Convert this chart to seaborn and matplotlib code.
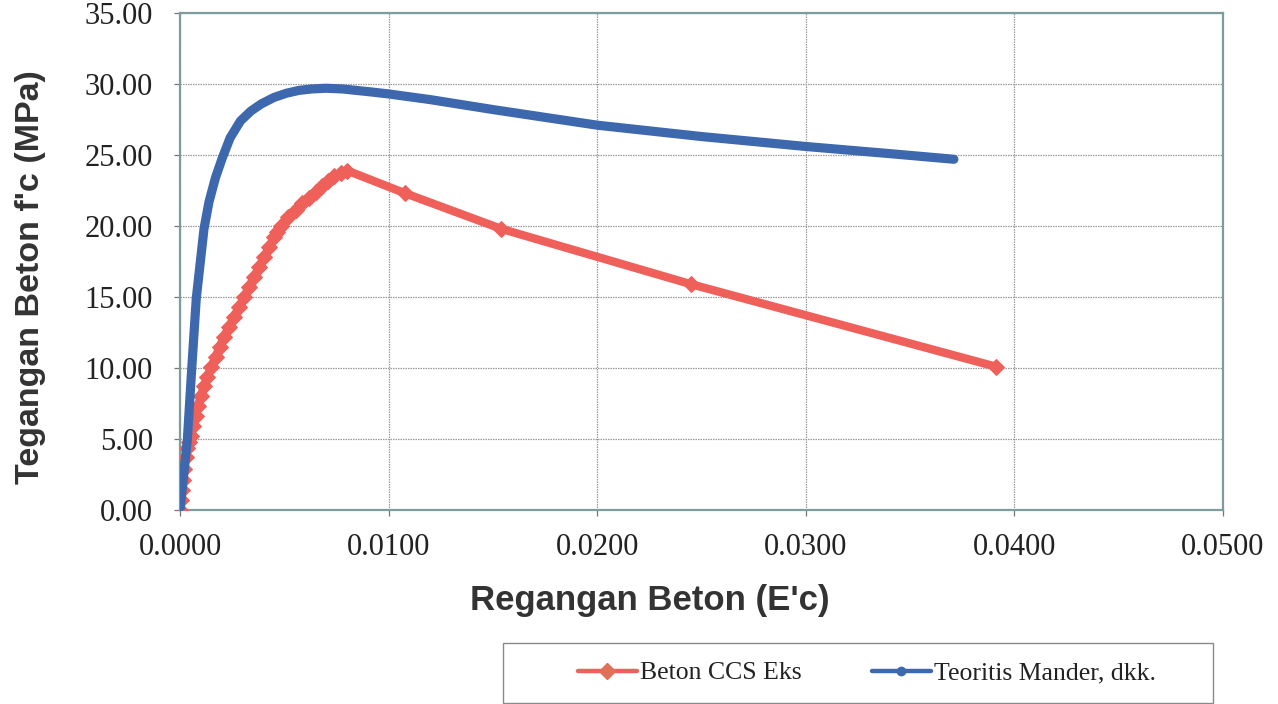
import matplotlib
matplotlib.use("Agg")
import matplotlib.pyplot as plt
from matplotlib.lines import Line2D
from matplotlib.patches import Rectangle
from matplotlib.ticker import FixedLocator, FormatStrFormatter
import numpy as np
import pandas as pd
import seaborn as sns

# Beton CCS Eks (experimental stress-strain)
eks_strain = [0.0, 0.00005, 0.00010, 0.00014, 0.00020, 0.00027, 0.00035, 0.00043, 0.00051,
              0.00063, 0.00075, 0.00087, 0.00099, 0.00115, 0.00131, 0.00151, 0.00171,
              0.00191, 0.00211, 0.00235, 0.00259, 0.00283, 0.00307, 0.00331, 0.00355,
              0.00379, 0.00403, 0.00427, 0.00451, 0.00467, 0.00483, 0.00519, 0.00555,
              0.00587, 0.00619, 0.00651, 0.00683, 0.00711, 0.00739, 0.00770, 0.00802,
              0.01080, 0.01540, 0.02450, 0.03910]
eks_stress = [0.0, 0.7, 1.4, 2.1, 2.9, 3.75, 4.4, 4.8, 5.2,
              5.9, 6.6, 7.3, 8.0, 8.7, 9.4, 10.1, 10.8,
              11.5, 12.2, 12.9, 13.6, 14.3, 15.0, 15.7, 16.4,
              17.1, 17.8, 18.5, 19.2, 19.6, 20.0, 20.6, 21.1,
              21.6, 22.0, 22.4, 22.8, 23.2, 23.5, 23.7, 23.9,
              22.3, 19.8, 15.9, 10.1]

# Teoritis Mander, dkk. (theoretical confined model)
man_strain = [0.0, 0.00035, 0.00056, 0.00078, 0.00115, 0.00139, 0.00170, 0.00203, 0.00240,
              0.00290, 0.00340, 0.00390, 0.00450, 0.00510, 0.00570, 0.00630, 0.00700,
              0.00780, 0.00910, 0.01000, 0.01200, 0.01500, 0.02000, 0.02500, 0.03000,
              0.03400, 0.03710]
man_stress = [0.0, 4.9, 9.9, 14.9, 19.8, 21.7, 23.4, 24.8, 26.2,
              27.4, 28.1, 28.6, 29.05, 29.35, 29.55, 29.65, 29.7,
              29.65, 29.45, 29.3, 28.9, 28.2, 27.1, 26.3, 25.6,
              25.1, 24.7]

x_ticks = [0.0, 0.01, 0.02, 0.03, 0.04, 0.05]
y_ticks = [0, 5, 10, 15, 20, 25, 30, 35]

label_eks = "Beton CCS Eks"
label_man = "Teoritis Mander, dkk."
x_title = "Regangan Beton (E'c)"
y_title = "Tegangan Beton f'c (MPa)"

red = "#F0605A"
blue = "#3D68AE"
frame = "#7E9C9C"
grid_col = "#9A9A9A"

sns.set_theme(style="white")
plt.rcParams["font.family"] = ["Liberation Serif", "DejaVu Serif"]

df_eks = pd.DataFrame({"strain": eks_strain, "stress": eks_stress})
df_man = pd.DataFrame({"strain": man_strain, "stress": man_stress})

W, H = 1278, 704
fig = plt.figure(figsize=(W / 100, H / 100), dpi=100)
ax = fig.add_axes([180 / W, (H - 510) / H, (1223 - 180) / W, (510 - 13) / H])

sns.lineplot(data=df_eks, x="strain", y="stress", sort=False, ax=ax, color=red,
             linewidth=6.0, marker="D", markersize=8, markeredgecolor=red,
             markerfacecolor=red, zorder=3)
sns.lineplot(data=df_man, x="strain", y="stress", sort=False, ax=ax, color=blue,
             linewidth=6.6, marker="s", markersize=3, markeredgecolor=blue,
             markerfacecolor=blue, zorder=4, solid_capstyle="round",
             solid_joinstyle="round")

ax.set_xlim(0, 0.05)
ax.set_ylim(0, 35)
ax.xaxis.set_major_locator(FixedLocator(x_ticks))
ax.yaxis.set_major_locator(FixedLocator(y_ticks))
ax.xaxis.set_major_formatter(FormatStrFormatter("%.4f"))
ax.yaxis.set_major_formatter(FormatStrFormatter("%.2f"))

ax.grid(True, color=grid_col, linewidth=0.9, linestyle=(0, (1.2, 0.8)))
ax.set_axisbelow(True)
for side in ax.spines.values():
    side.set_visible(True)
    side.set_color(frame)
    side.set_linewidth(1.6)

ax.tick_params(axis="both", which="major", direction="out", length=4.5, width=0.9,
               color="#777777", labelsize=22, labelcolor="#222222")
ax.tick_params(axis="x", pad=12, bottom=True)
ax.tick_params(axis="y", pad=15, left=True)

ax.set_xlabel(x_title, fontsize=25, fontweight="bold", family="Liberation Sans",
              color="#333333")
ax.set_ylabel(y_title, fontsize=24.5, fontweight="bold", family="Liberation Sans",
              color="#333333")
ax.xaxis.set_label_coords((650 - 180) / (1223 - 180), -0.148)
ax.yaxis.set_label_coords(-0.128, (510 - 277) / (510 - 13))

# legend frame below the plot, with the entries centred inside it
fig.patches.append(Rectangle((503 / W, 1 / H), (1213 - 503) / W, (703 - 643) / H,
                             transform=fig.transFigure, fill=False,
                             edgecolor="#8A8A8A", linewidth=1.0))
handles = [
    Line2D([], [], color=red, linewidth=3.2, marker="D", markersize=8,
           markeredgecolor="#E0705A", markerfacecolor="#E0705A"),
    Line2D([], [], color=blue, linewidth=3.2, marker="o", markersize=6,
           markeredgecolor=blue, markerfacecolor=blue),
]
leg = fig.legend(handles, [label_eks, label_man], loc="center",
                 bbox_to_anchor=(867 / W, (H - 673) / H), ncol=2,
                 fontsize=18.5, frameon=False, handlelength=2.3,
                 handletextpad=0.15, columnspacing=2.7)
for t in leg.get_texts():
    t.set_color("#222222")

fig.savefig("out.png", dpi=100, facecolor="white")
